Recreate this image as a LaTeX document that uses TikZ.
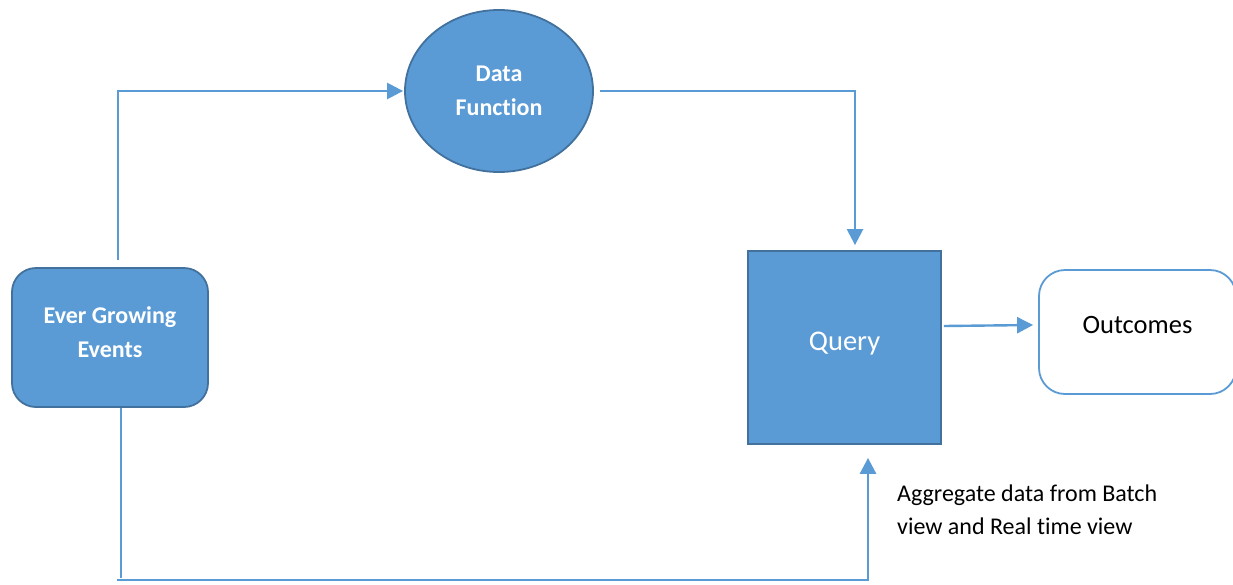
\documentclass[tikz,border=0pt]{standalone}
\usepackage{fontspec}
\setmainfont{Carlito}[Ligatures=NoCommon]
\usetikzlibrary{arrows.meta,shapes.geometric}
\definecolor{accent}{HTML}{5B9BD5}
\definecolor{edgeblue}{HTML}{41719C}
\tikzset{
  filledbox/.style={fill=accent, draw=edgeblue, line width=1.8pt},
  boxtext/.style={text=white, align=center},
  conn/.style={draw=accent, line width=2.4pt},
  arr/.style={conn, -{Triangle[length=16pt,width=16pt]}},
}
\begin{document}
\begin{tikzpicture}[x=1pt,y=-1pt]
\useasboundingbox[fill=white] (0,0) rectangle (1233,584);
\node[filledbox, rounded corners=24pt, minimum width=196pt, minimum height=139pt,
  label={[boxtext, font=\fontsize{24}{34}\selectfont\bfseries, yshift=5.5pt]center:Ever Growing\\Events}] (ev) at (110,337.5) {};
\node[filledbox, ellipse, minimum width=188pt, minimum height=162pt, inner sep=0pt,
  label={[boxtext, font=\fontsize{24}{34}\selectfont\bfseries]center:Data\\Function}] (df) at (499,91) {};
\node[filledbox, minimum width=193pt, minimum height=193pt,
  label={[boxtext, font=\fontsize{28.5}{32}\selectfont, yshift=4pt]center:Query}] (q) at (844.5,347.5) {};
\node[draw=accent, line width=1.8pt, fill=white, rounded corners=26pt, minimum width=197pt, minimum height=124pt,
  label={[font=\fontsize{26.5}{30}\selectfont, yshift=7pt]center:Outcomes}] (oc) at (1137.5,332) {};
\node[anchor=west, align=left, font=\fontsize{24}{33}\selectfont, inner sep=0pt] (lbl) at (897,509.5)
  {Aggregate data from Batch\\view and Real time view};
\coordinate (s1) at (118,260);
\draw[arr] (s1) |- ([xshift=-1pt]df.west);
\draw[arr] ([xshift=6pt]df.east) -| ([xshift=10.5pt,yshift=5pt]q.north);
\draw[arr] ([xshift=2pt]q.east |- 0,326) -- ([xshift=-5pt]oc.west |- 0,325);
\coordinate (b1) at (121,578);
\coordinate (b2) at (117,580);
\draw[draw=accent, line width=1.2pt] (ev.south -| b1) -- (b1);
\draw[arr, line width=2.8pt] (b2) -| ([xshift=23.5pt,yshift=-13pt]q.south);
\end{tikzpicture}
\end{document}
